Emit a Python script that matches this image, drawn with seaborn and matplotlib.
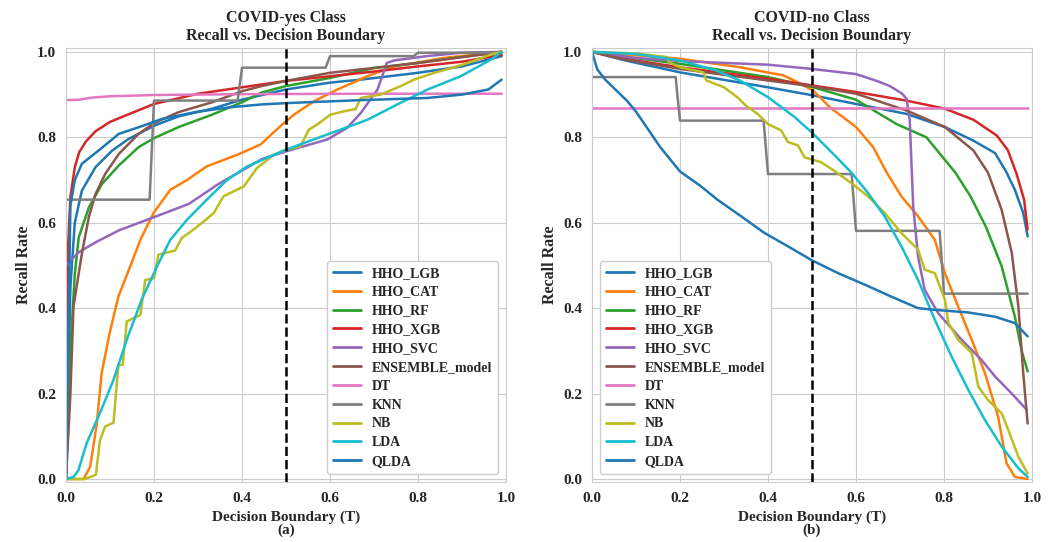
import numpy as np
import pandas as pd
import matplotlib
matplotlib.use("Agg")
import matplotlib.pyplot as plt
import seaborn as sns

MODELS = ["HHO_LGB", "HHO_CAT", "HHO_RF", "HHO_XGB", "HHO_SVC",
          "ENSEMBLE_model", "DT", "KNN", "NB", "LDA", "QLDA"]

# ---------------- COVID-yes class: recall vs threshold ----------------
YES_LGB_T = [0, 0.01, 0.02, 0.036, 0.067, 0.105, 0.142, 0.2, 0.256, 0.332, 0.4, 0.5, 0.6, 0.67, 0.8, 0.9, 0.99]
YES_LGB_R = [0, 0.45, 0.6, 0.675, 0.73, 0.769, 0.796, 0.827, 0.849, 0.867, 0.888, 0.912, 0.928, 0.935, 0.951, 0.966, 0.99]

YES_CAT_T = [0, 0.04, 0.055, 0.07, 0.081, 0.099, 0.119, 0.146, 0.169, 0.199, 0.237, 0.275, 0.32, 0.389,
             0.442, 0.487, 0.518, 0.563, 0.617, 0.685, 0.746, 0.86, 0.99]
YES_CAT_R = [0, 0, 0.029, 0.13, 0.248, 0.341, 0.427, 0.498, 0.56, 0.623, 0.677, 0.70, 0.732, 0.759,
             0.783, 0.826, 0.853, 0.884, 0.912, 0.943, 0.966, 0.986, 1.0]

YES_RF_T = [0, 0.01, 0.02, 0.029, 0.052, 0.082, 0.12, 0.165, 0.2, 0.256, 0.332, 0.4, 0.445, 0.5, 0.6, 0.7, 0.8, 0.9, 0.99]
YES_RF_R = [0, 0.3, 0.48, 0.566, 0.636, 0.691, 0.734, 0.777, 0.798, 0.824, 0.853, 0.882, 0.905, 0.92, 0.939, 0.962, 0.974, 0.988, 1.0]

YES_XGB_T = [0, 0.005, 0.01, 0.02, 0.03, 0.045, 0.067, 0.1, 0.14, 0.2, 0.3, 0.4, 0.5, 0.6, 0.7, 0.8, 0.9, 0.99]
YES_XGB_R = [0, 0.55, 0.66, 0.73, 0.765, 0.79, 0.814, 0.836, 0.853, 0.878, 0.902, 0.917, 0.932, 0.943, 0.954, 0.966, 0.977, 0.993]

YES_SVC_T = [0, 0.029, 0.067, 0.12, 0.2, 0.279, 0.347, 0.4, 0.445, 0.5, 0.594, 0.639, 0.67, 0.708, 0.729,
             0.746, 0.82, 0.9, 0.99]
YES_SVC_R = [0.5, 0.531, 0.554, 0.582, 0.613, 0.644, 0.691, 0.722, 0.749, 0.767, 0.795, 0.822, 0.857, 0.912, 0.974,
             0.98, 0.99, 0.998, 1.0]

YES_ENS_T = [0, 0.01, 0.017, 0.036, 0.052, 0.067, 0.089, 0.12, 0.165, 0.2, 0.256, 0.332, 0.4, 0.445, 0.5, 0.6, 0.8, 0.99]
YES_ENS_R = [0, 0.2, 0.404, 0.527, 0.614, 0.667, 0.714, 0.761, 0.808, 0.833, 0.859, 0.882, 0.908, 0.92, 0.932, 0.951, 0.974, 1.0]

YES_DT_T = [0, 0.03, 0.06, 0.1, 0.2, 0.4, 0.7, 0.99]
YES_DT_R = [0.887, 0.888, 0.893, 0.896, 0.899, 0.901, 0.902, 0.902]

YES_KNN_T = [0, 0.19, 0.2, 0.39, 0.4, 0.59, 0.6, 0.79, 0.8, 0.99]
YES_KNN_R = [0.654, 0.654, 0.886, 0.886, 0.963, 0.963, 0.99, 0.99, 0.998, 0.998]

YES_NB_T = [0, 0.043, 0.068, 0.077, 0.089, 0.108, 0.119, 0.129, 0.138, 0.169, 0.18, 0.2, 0.21, 0.248, 0.263,
            0.29, 0.313, 0.336, 0.358, 0.404, 0.434, 0.472, 0.5, 0.533, 0.552, 0.571, 0.601, 0.632, 0.658,
            0.67, 0.715, 0.761, 0.791, 0.837, 0.875, 0.913, 0.966, 0.99]
YES_NB_R = [0, 0, 0.01, 0.09, 0.123, 0.132, 0.267, 0.267, 0.369, 0.384, 0.466, 0.47, 0.525, 0.535, 0.564,
            0.584, 0.603, 0.623, 0.662, 0.685, 0.728, 0.759, 0.771, 0.779, 0.818, 0.83, 0.853, 0.861, 0.866,
            0.892, 0.9, 0.92, 0.935, 0.951, 0.962, 0.974, 0.994, 1.0]

YES_LDA_T = [0, 0.017, 0.028, 0.047, 0.077, 0.108, 0.138, 0.172, 0.207, 0.237, 0.275, 0.32, 0.366, 0.412,
             0.457, 0.5, 0.563, 0.624, 0.685, 0.753, 0.822, 0.897, 0.966, 0.99]
YES_LDA_R = [0, 0.005, 0.02, 0.084, 0.154, 0.232, 0.326, 0.42, 0.498, 0.56, 0.607, 0.654, 0.70, 0.732,
             0.752, 0.771, 0.795, 0.818, 0.841, 0.877, 0.912, 0.943, 0.982, 1.0]

YES_QLDA_T = [0, 0.01, 0.02, 0.036, 0.074, 0.12, 0.175, 0.218, 0.294, 0.37, 0.445, 0.5, 0.67, 0.82, 0.9, 0.96, 0.99]
YES_QLDA_R = [0, 0.64, 0.70, 0.738, 0.769, 0.808, 0.827, 0.843, 0.859, 0.870, 0.877, 0.88, 0.887, 0.892, 0.9, 0.912, 0.935]

# ---------------- COVID-no class: recall vs threshold ----------------
NO_LGB_T = [0, 0.071, 0.2, 0.4, 0.503, 0.6, 0.714, 0.802, 0.867, 0.916, 0.942, 0.961, 0.98, 0.99]
NO_LGB_R = [1.0, 0.981, 0.952, 0.917, 0.898, 0.878, 0.855, 0.824, 0.792, 0.763, 0.718, 0.677, 0.623, 0.568]

NO_CAT_T = [0, 0.2, 0.336, 0.435, 0.467, 0.503, 0.541, 0.6, 0.639, 0.67, 0.703, 0.741, 0.779, 0.802, 0.832,
            0.863, 0.893, 0.923, 0.942, 0.961, 0.99]
NO_CAT_R = [1.0, 0.984, 0.964, 0.945, 0.929, 0.909, 0.87, 0.824, 0.777, 0.717, 0.662, 0.615, 0.56, 0.482, 0.404,
            0.326, 0.248, 0.146, 0.037, 0.005, 0.0]

NO_RF_T = [0, 0.071, 0.2, 0.4, 0.503, 0.6, 0.692, 0.76, 0.826, 0.86, 0.895, 0.931, 0.961, 0.976, 0.99]
NO_RF_R = [1.0, 0.989, 0.972, 0.941, 0.917, 0.888, 0.831, 0.80, 0.717, 0.662, 0.591, 0.498, 0.38, 0.302, 0.252]

NO_XGB_T = [0, 0.071, 0.2, 0.4, 0.503, 0.6, 0.714, 0.802, 0.867, 0.92, 0.945, 0.965, 0.982, 0.99]
NO_XGB_R = [1.0, 0.984, 0.964, 0.937, 0.921, 0.906, 0.886, 0.867, 0.841, 0.804, 0.77, 0.714, 0.654, 0.584]

NO_SVC_T = [0, 0.096, 0.21, 0.4, 0.5, 0.6, 0.65, 0.677, 0.705, 0.715, 0.722, 0.73, 0.741, 0.756, 0.787,
            0.84, 0.885, 0.916, 0.954, 0.988]
NO_SVC_R = [1.0, 0.986, 0.978, 0.97, 0.96, 0.948, 0.931, 0.92, 0.902, 0.89, 0.841, 0.638, 0.521, 0.443, 0.388,
            0.326, 0.279, 0.24, 0.2, 0.162]

NO_ENS_T = [0, 0.071, 0.2, 0.4, 0.503, 0.6, 0.714, 0.802, 0.867, 0.9, 0.931, 0.954, 0.969, 0.98, 0.99]
NO_ENS_R = [1.0, 0.983, 0.96, 0.933, 0.919, 0.902, 0.863, 0.824, 0.769, 0.717, 0.63, 0.529, 0.404, 0.248, 0.13]

NO_DT_T = [0, 0.99]
NO_DT_R = [0.869, 0.869]

NO_KNN_T = [0, 0.19, 0.2, 0.39, 0.4, 0.59, 0.6, 0.79, 0.8, 0.99]
NO_KNN_R = [0.941, 0.941, 0.839, 0.839, 0.714, 0.714, 0.581, 0.581, 0.434, 0.434]

NO_NB_T = [0, 0.1, 0.17, 0.175, 0.2, 0.253, 0.26, 0.3, 0.33, 0.35, 0.376, 0.4, 0.43, 0.445, 0.468, 0.483,
           0.52, 0.55, 0.589, 0.627, 0.665, 0.703, 0.741, 0.756, 0.779, 0.802, 0.81, 0.832, 0.863, 0.878,
           0.9, 0.931, 0.946, 0.969, 0.99]
NO_NB_R = [1.0, 0.996, 0.988, 0.976, 0.964, 0.952, 0.933, 0.917, 0.894, 0.874, 0.855, 0.831, 0.816, 0.789,
           0.781, 0.753, 0.742, 0.722, 0.693, 0.662, 0.623, 0.576, 0.537, 0.49, 0.482, 0.42, 0.365, 0.326,
           0.295, 0.216, 0.185, 0.154, 0.115, 0.052, 0.013]

NO_LDA_T = [0, 0.1, 0.2, 0.283, 0.336, 0.4, 0.461, 0.503, 0.556, 0.59, 0.627, 0.665, 0.703, 0.741, 0.779,
            0.817, 0.855, 0.893, 0.931, 0.969, 0.99]
NO_LDA_R = [1.0, 0.995, 0.98, 0.956, 0.933, 0.894, 0.847, 0.808, 0.753, 0.717, 0.67, 0.615, 0.545, 0.466, 0.373,
            0.287, 0.209, 0.138, 0.076, 0.025, 0.005]

NO_QLDA_T = [0, 0.012, 0.03, 0.055, 0.08, 0.1, 0.124, 0.155, 0.2, 0.248, 0.285, 0.339, 0.392, 0.445, 0.498,
             0.559, 0.62, 0.68, 0.741, 0.779, 0.855, 0.916, 0.961, 0.99]
NO_QLDA_R = [1.0, 0.959, 0.935, 0.91, 0.885, 0.86, 0.824, 0.777, 0.72, 0.685, 0.654, 0.615, 0.576, 0.545, 0.513,
             0.482, 0.455, 0.427, 0.40, 0.396, 0.39, 0.38, 0.365, 0.334]

YES_CURVES = [(YES_LGB_T, YES_LGB_R), (YES_CAT_T, YES_CAT_R), (YES_RF_T, YES_RF_R), (YES_XGB_T, YES_XGB_R),
              (YES_SVC_T, YES_SVC_R), (YES_ENS_T, YES_ENS_R), (YES_DT_T, YES_DT_R), (YES_KNN_T, YES_KNN_R),
              (YES_NB_T, YES_NB_R), (YES_LDA_T, YES_LDA_R), (YES_QLDA_T, YES_QLDA_R)]
NO_CURVES = [(NO_LGB_T, NO_LGB_R), (NO_CAT_T, NO_CAT_R), (NO_RF_T, NO_RF_R), (NO_XGB_T, NO_XGB_R),
             (NO_SVC_T, NO_SVC_R), (NO_ENS_T, NO_ENS_R), (NO_DT_T, NO_DT_R), (NO_KNN_T, NO_KNN_R),
             (NO_NB_T, NO_NB_R), (NO_LDA_T, NO_LDA_R), (NO_QLDA_T, NO_QLDA_R)]


def to_frame(curves):
    parts = []
    for name, (t, r) in zip(MODELS, curves):
        parts.append(pd.DataFrame({"T": t, "Recall": r, "Model": name}))
    return pd.concat(parts, ignore_index=True)


sns.set_style("whitegrid")
plt.rcParams["font.family"] = ["Liberation Serif", "DejaVu Serif"]
plt.rcParams["font.weight"] = "bold"
plt.rcParams["axes.labelweight"] = "bold"
plt.rcParams["axes.titleweight"] = "bold"

tab = sns.color_palette("tab10")
palette = list(tab) + [tab[0]]

fig = plt.figure(figsize=(10.56, 5.42), dpi=100)
ax_yes = fig.add_axes([0.0625, 0.1107, 0.4167, 0.8007])
ax_no = fig.add_axes([0.5606, 0.1107, 0.4167, 0.8007])

panels = [
    (ax_yes, YES_CURVES, "COVID-yes Class\nRecall vs. Decision Boundary", "(a)", "lower right"),
    (ax_no, NO_CURVES, "COVID-no Class\nRecall vs. Decision Boundary", "(b)", "lower left"),
]

ticks = [0.0, 0.2, 0.4, 0.6, 0.8, 1.0]
for ax, curves, title, tag, loc in panels:
    df = to_frame(curves)
    sns.lineplot(data=df, x="T", y="Recall", hue="Model", hue_order=MODELS,
                 palette=palette, estimator=None, sort=False, linewidth=1.8, ax=ax)
    ax.axvline(0.5, color="black", linestyle="--", linewidth=1.8)
    ax.set_xlim(0, 1.0)
    ax.set_ylim(-0.007, 1.009)
    ax.set_xticks(ticks)
    ax.set_yticks(ticks)
    ax.set_xticklabels([f"{v:.1f}" for v in ticks], fontsize=11, fontweight="bold")
    ax.set_yticklabels([f"{v:.1f}" for v in ticks], fontsize=11, fontweight="bold")
    ax.set_title(title, fontsize=11.5, fontweight="bold", pad=6, linespacing=1.15)
    ax.set_xlabel("Decision Boundary (T)\n" + tag, fontsize=11, fontweight="bold",
                  linespacing=1.0, labelpad=4)
    ax.set_ylabel("Recall Rate", fontsize=11.5, fontweight="bold")
    leg = ax.legend(loc=loc, prop={"size": 10, "weight": "bold"}, framealpha=1.0,
                    labelspacing=0.42, borderaxespad=0.6)
    for line in leg.get_lines():
        line.set_linewidth(2.0)

fig.savefig("out.png", dpi=100)
